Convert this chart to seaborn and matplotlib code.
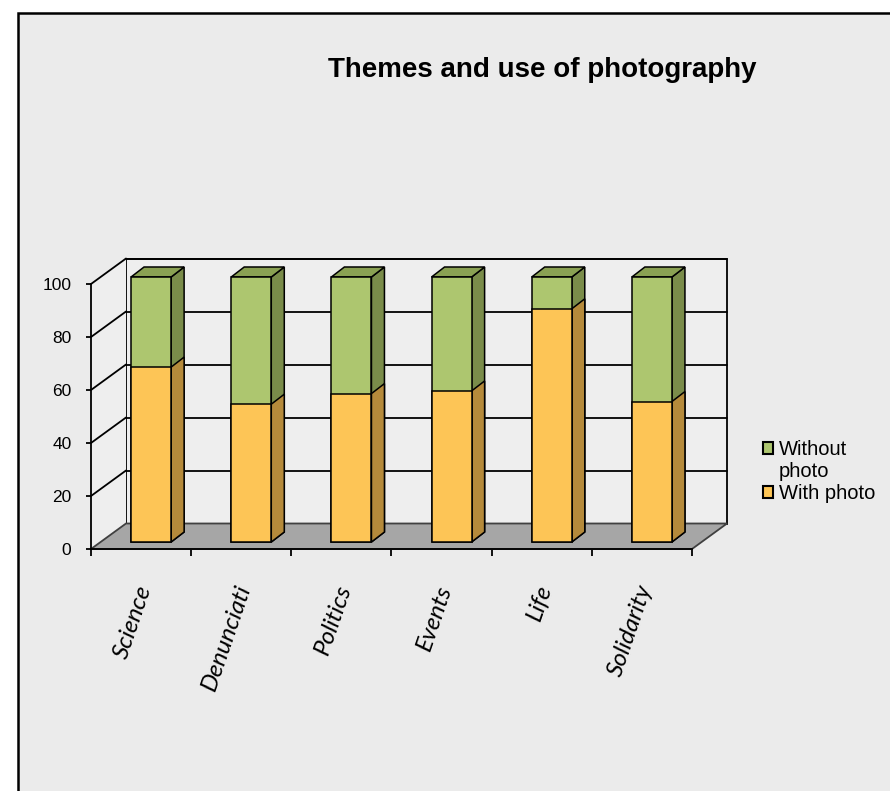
import matplotlib
matplotlib.use("Agg")
import matplotlib.pyplot as plt
import matplotlib.transforms as mtransforms
import pandas as pd
import seaborn as sns
from matplotlib.patches import Polygon, Rectangle, Patch

# ---- data -------------------------------------------------------------
themes = ["Science", "Denunciati", "Politics", "Events", "Life", "Solidarity"]
with_photo = [66, 52, 56, 57, 88, 53]
without_photo = [34, 48, 44, 43, 12, 47]
y_ticks = [0, 20, 40, 60, 80, 100]
title = "Themes and use of photography"
legend_labels = ["Without\nphoto", "With photo"]

# ---- style ------------------------------------------------------------
BG = "#ebebeb"
WALL = "#eeeeee"
FLOOR = "#a6a6a6"
GREEN, GREEN_SIDE, GREEN_TOP = "#adc66f", "#7a8c4a", "#8aa153"
ORANGE, ORANGE_SIDE = "#fdc556", "#b58a3b"

sns.set_theme(style="white")
plt.rcParams["font.family"] = ["Liberation Sans", "DejaVu Sans"]
plt.rcParams["text.color"] = "black"

W, H = 890, 791
fig = plt.figure(figsize=(W / 100, H / 100), dpi=100, facecolor="white")
fig.patches.append(Rectangle((18 / W, -0.1), 1.2, 1.1 - 13 / H,
                             transform=fig.transFigure, facecolor=BG,
                             edgecolor="black", linewidth=1.8, zorder=-5))

ax = fig.add_axes([91 / W, 242 / H, 601 / W, 265 / H])
ax.set_facecolor("none")

df = pd.DataFrame({"Theme": themes, "With photo": with_photo,
                   "Without photo": without_photo})
df["Total"] = df["With photo"] + df["Without photo"]

sns.barplot(data=df, x="Theme", y="Total", color=GREEN, saturation=1,
            width=0.4, edgecolor="black", linewidth=1.1, ax=ax)
green_bars = [p for p in ax.patches if type(p) is Rectangle]
sns.barplot(data=df, x="Theme", y="With photo", color=ORANGE, saturation=1,
            width=0.4, edgecolor="black", linewidth=1.1, ax=ax)
orange_bars = [p for p in ax.patches if type(p) is Rectangle and p not in green_bars]

ax.set_xlim(-0.5, len(themes) - 0.5)
ax.set_ylim(0, 100)


def px_to_data(px, py):
    inv = ax.transData.inverted()
    (x0, y0), (x1, y1) = inv.transform([(0, 0), (px, py)])
    return x1 - x0, y1 - y0


wall_dx, wall_dy = px_to_data(35, 25.5)     # depth of the box
bar_sx, bar_sy = px_to_data(10, 7)          # bars stand inside the box
bar_dx, bar_dy = px_to_data(13, 10)         # depth of each bar

x_lo, x_hi = ax.get_xlim()

# back wall and left wall
ax.add_patch(Polygon([(x_lo + wall_dx, wall_dy), (x_hi + wall_dx, wall_dy),
                      (x_hi + wall_dx, 100 + wall_dy), (x_lo + wall_dx, 100 + wall_dy)],
                     closed=True, facecolor=WALL, edgecolor="black", linewidth=1.3,
                     clip_on=False, zorder=0.5))
ax.add_patch(Polygon([(x_lo, 0), (x_lo + wall_dx, wall_dy),
                      (x_lo + wall_dx, 100 + wall_dy), (x_lo, 100)],
                     closed=True, facecolor=WALL, edgecolor="none",
                     clip_on=False, zorder=0.5))
for v in y_ticks[1:]:
    ax.plot([x_lo + wall_dx, x_hi + wall_dx], [v + wall_dy, v + wall_dy],
            color="black", linewidth=1.3, clip_on=False, zorder=0.8)
    ax.plot([x_lo, x_lo + wall_dx], [v, v + wall_dy],
            color="black", linewidth=1.3, clip_on=False, zorder=0.8)

# floor
ax.add_patch(Polygon([(x_lo, 0), (x_hi, 0), (x_hi + wall_dx, wall_dy),
                      (x_lo + wall_dx, wall_dy)],
                     closed=True, facecolor=FLOOR, edgecolor="#404040",
                     linewidth=1.3, clip_on=False, zorder=1))

# bars: front faces from seaborn, plus side and top faces
for green, group in ((True, green_bars), (False, orange_bars)):
    for p in group:
        p.set_x(p.get_x() + bar_sx)
        p.set_y(p.get_y() + bar_sy)
        p.set_clip_on(False)
        p.set_zorder(4 if green else 5)
        x0, y0 = p.get_x(), p.get_y()
        x1, y1 = x0 + p.get_width(), y0 + p.get_height()
        ax.add_patch(Polygon([(x1, y0), (x1 + bar_dx, y0 + bar_dy),
                              (x1 + bar_dx, y1 + bar_dy), (x1, y1)], closed=True,
                             facecolor=GREEN_SIDE if green else ORANGE_SIDE,
                             edgecolor="black", linewidth=1.1, clip_on=False,
                             zorder=2 if green else 3))
        if green:
            ax.add_patch(Polygon([(x0, y1), (x1, y1), (x1 + bar_dx, y1 + bar_dy),
                                  (x0 + bar_dx, y1 + bar_dy)], closed=True,
                                 facecolor=GREEN_TOP, edgecolor="black",
                                 linewidth=1.1, clip_on=False, zorder=2))

# axes, ticks, labels
for s in ["top", "right"]:
    ax.spines[s].set_visible(False)
for s in ["left", "bottom"]:
    ax.spines[s].set_visible(True)
    ax.spines[s].set_color("black")
    ax.spines[s].set_linewidth(1.3)
    ax.spines[s].set_zorder(6)

ax.set_yticks(y_ticks)
ax.set_yticklabels([str(v) for v in y_ticks])
ax.tick_params(axis="y", left=True, direction="out", length=3.6, width=1.3,
               color="black", pad=10.5, labelsize=12.5, labelcolor="black")

ax.set_xticks(range(len(themes)))
ax.set_xticks([x_lo + k for k in range(len(themes) + 1)], minor=True)
ax.tick_params(axis="x", which="minor", bottom=True, direction="out",
               length=5, width=1.3, color="black")
ax.tick_params(axis="x", which="major", bottom=True, length=0, pad=24)
ax.set_xticklabels(themes, rotation=71, ha="right", rotation_mode="anchor",
                   fontfamily="Lato", fontstyle="italic", fontsize=17.5,
                   color="black")
label_shift = mtransforms.ScaledTranslation(-6 / 100, 0, fig.dpi_scale_trans)
for lbl in ax.get_xticklabels():
    lbl.set_transform(lbl.get_transform() + label_shift)
ax.set_xlabel("")
ax.set_ylabel("")

fig.text(542.5 / W, 1 - 77 / H, title, ha="center", va="baseline",
         fontsize=20, fontweight="bold", color="black")

handles = [Patch(facecolor=GREEN, edgecolor="black", linewidth=1.5),
           Patch(facecolor="none", edgecolor="none"),
           Patch(facecolor=ORANGE, edgecolor="black", linewidth=1.5)]
first, second = legend_labels[0].split("\n")
leg = ax.legend(handles, [first, second, legend_labels[1]], loc="upper left",
                bbox_to_anchor=(763 / W, 1 - 440 / H), bbox_transform=fig.transFigure,
                frameon=False, fontsize=14.5, handlelength=0.5, handleheight=0.5,
                handletextpad=0.3, labelspacing=0.15, borderpad=0, borderaxespad=0)
for t in leg.get_texts():
    t.set_color("black")

fig.savefig("out.png", dpi=100, facecolor="white")
